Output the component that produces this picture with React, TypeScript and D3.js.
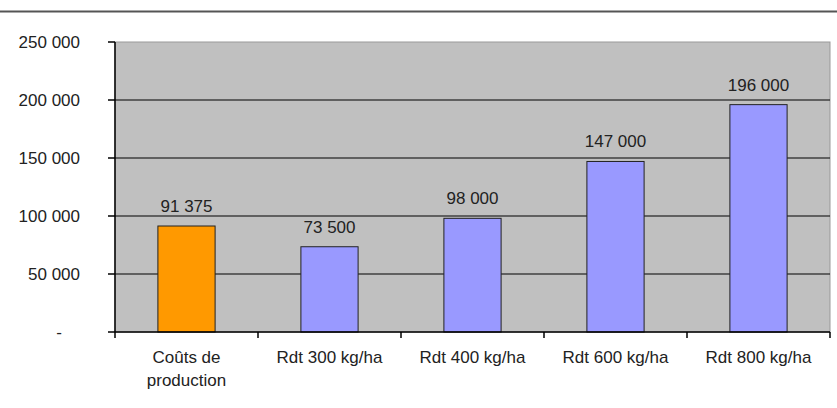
import React from "react";
import * as d3 from "d3";

const categories: string[][] = [["Coûts de", "production"], ["Rdt 300 kg/ha"], ["Rdt 400 kg/ha"], ["Rdt 600 kg/ha"], ["Rdt 800 kg/ha"]];
const values: number[] = [91375, 73500, 98000, 147000, 196000];
const colors: string[] = ["#FF9900", "#9999FF", "#9999FF", "#9999FF", "#9999FF"];
const yTicks: number[] = [0, 50000, 100000, 150000, 200000, 250000];

const fmt = (v: number) => (v === 0 ? "-" : d3.format(",")(v).replace(/,/g, " "));

export default function App() {
  const W = 837, H = 408;
  const left = 115, right = 830, top = 42, bottom = 332;
  const x = d3.scaleBand<number>().domain(d3.range(values.length)).range([left, right]).paddingInner(0).paddingOuter(0);
  const y = d3.scaleLinear().domain([0, 250000]).range([bottom, top]);
  const bw = x.bandwidth() * 0.4;
  const font = "'Liberation Sans', Arial, sans-serif";
  return (
    <svg width={W} height={H} style={{ position: "absolute", left: 0, top: 0 }} fontFamily={font}>
      <rect x={0} y={0} width={W} height={H} fill="#fff" />
      <line x1={0} x2={W} y1={11.5} y2={11.5} stroke="#555" strokeWidth={2} />
      <rect x={left} y={top} width={right - left} height={bottom - top} fill="#C0C0C0" stroke="#999" strokeWidth={1} />
      {yTicks.filter(t => t > 0 && t < 250000).map(t => (
        <line key={t} x1={left} x2={right} y1={y(t)} y2={y(t)} stroke="#000" strokeWidth={1} />
      ))}
      {values.map((v, i) => {
        const cx = x(i)! + x.bandwidth() / 2;
        return (
          <g key={i}>
            <rect x={cx - bw / 2} y={y(v)} width={bw} height={bottom - y(v)} fill={colors[i]} stroke="#222" strokeWidth={1} />
            <text x={cx} y={y(v) - 14} textAnchor="middle" fontSize={17} fill="#222">{fmt(v)}</text>
          </g>
        );
      })}
      <line x1={left} x2={left} y1={top} y2={bottom} stroke="#000" strokeWidth={1.5} />
      <line x1={left} x2={right} y1={bottom} y2={bottom} stroke="#000" strokeWidth={1.5} />
      {yTicks.map(t => (
        <g key={t}>
          <line x1={left - 7} x2={left} y1={y(t)} y2={y(t)} stroke="#000" strokeWidth={1.5} />
          <text x={t === 0 ? 62 : 80} y={y(t) + 5.5} textAnchor="end" fontSize={17} fill="#222">{fmt(t)}</text>
        </g>
      ))}
      {d3.range(values.length + 1).map(i => {
        const xx = left + i * x.bandwidth();
        return <line key={i} x1={xx} x2={xx} y1={bottom} y2={bottom + 6} stroke="#000" strokeWidth={1.5} />;
      })}
      {categories.map((lines, i) => {
        const cx = x(i)! + x.bandwidth() / 2;
        return (
          <text key={i} x={cx} textAnchor="middle" fontSize={17} fill="#222">
            {lines.map((l, j) => (
              <tspan key={j} x={cx} y={363 + j * 23}>{l}</tspan>
            ))}
          </text>
        );
      })}
    </svg>
  );
}
